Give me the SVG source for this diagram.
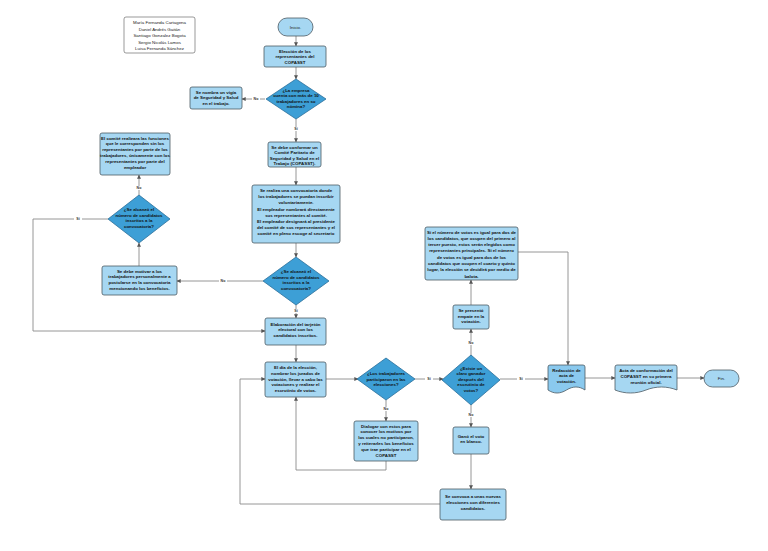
<svg xmlns="http://www.w3.org/2000/svg" width="768" height="551" viewBox="0 0 768 551">
<defs>
<marker id="ah" viewBox="0 0 6 6" refX="5.5" refY="3" markerWidth="4" markerHeight="4" orient="auto" markerUnits="userSpaceOnUse">
<path d="M0,0 L6,3 L0,6 z" fill="#555"/>
</marker>
<style>
.bx{fill:#a6d7f2;stroke:#4d5a63;stroke-width:0.8}
.dm{fill:#3d9fd6;stroke:#2b6f99;stroke-width:0.8}
.dk{fill:#8ac9ee;stroke:#4d5a63;stroke-width:0.8}
.t{font-family:"Liberation Sans",Arial,sans-serif;font-size:4.4px;font-weight:bold;fill:#111;text-anchor:middle}
.n{font-family:"Liberation Sans",Arial,sans-serif;font-size:4.4px;fill:#222;text-anchor:middle}
.c{fill:none;stroke:#8a8a8a;stroke-width:0.9}
.lb{font-family:"Liberation Sans",Arial,sans-serif;font-size:3.6px;font-weight:bold;fill:#333;text-anchor:middle}
.lbg{fill:#fff}
</style>
</defs>
<rect width="768" height="551" fill="#fff"/>

<g id="connectors">
<path class="c" marker-end="url(#ah)" d="M296,36 V46"/>
<path class="c" marker-end="url(#ah)" d="M296,67 V79"/>
<path class="c" marker-end="url(#ah)" d="M265,99 H242"/>
<path class="c" marker-end="url(#ah)" d="M296,119 V142"/>
<path class="c" marker-end="url(#ah)" d="M296,167 V185"/>
<path class="c" marker-end="url(#ah)" d="M296,243 V257"/>
<path class="c" marker-end="url(#ah)" d="M263,281 H177"/>
<path class="c" marker-end="url(#ah)" d="M139,266 V243"/>
<path class="c" marker-end="url(#ah)" d="M139,195 V175"/>
<path class="c" marker-end="url(#ah)" d="M108,219 H33 V331 H265"/>
<path class="c" marker-end="url(#ah)" d="M296,305 V318"/>
<path class="c" marker-end="url(#ah)" d="M296,345 V362"/>
<path class="c" marker-end="url(#ah)" d="M326,379 H358"/>
<path class="c" marker-end="url(#ah)" d="M415,379 H443"/>
<path class="c" marker-end="url(#ah)" d="M386,400 V421"/>
<path class="c" marker-end="url(#ah)" d="M386,461 V470 H296 V397"/>
<path class="c" marker-end="url(#ah)" d="M500,379 H548"/>
<path class="c" marker-end="url(#ah)" d="M471,356 V329"/>
<path class="c" marker-end="url(#ah)" d="M471,305 V280"/>
<path class="c" marker-end="url(#ah)" d="M518,252 H568 V365"/>
<path class="c" marker-end="url(#ah)" d="M585,378 H615"/>
<path class="c" marker-end="url(#ah)" d="M677,378 H704"/>
<path class="c" marker-end="url(#ah)" d="M471,405 V427"/>
<path class="c" marker-end="url(#ah)" d="M471,454 V489"/>
<path class="c" marker-end="url(#ah)" d="M440,504 H240 V379 H265"/>
<g>
<rect class="lbg" x="252" y="97" width="8" height="4"/><text class="lb" x="256" y="100.3">No</text>
<rect class="lbg" x="292" y="127" width="8" height="4"/><text class="lb" x="296" y="130.3">Sí</text>
<rect class="lbg" x="219" y="279" width="8" height="4"/><text class="lb" x="223" y="282.3">No</text>
<rect class="lbg" x="135" y="186" width="8" height="4"/><text class="lb" x="139" y="189.3">No</text>
<rect class="lbg" x="74" y="217" width="8" height="4"/><text class="lb" x="78" y="220.3">Sí</text>
<rect class="lbg" x="292" y="309" width="8" height="4"/><text class="lb" x="296" y="312.3">Sí</text>
<rect class="lbg" x="425" y="377" width="8" height="4"/><text class="lb" x="429" y="380.3">Sí</text>
<rect class="lbg" x="382" y="407" width="8" height="4"/><text class="lb" x="386" y="410.3">No</text>
<rect class="lbg" x="517" y="377" width="8" height="4"/><text class="lb" x="521" y="380.3">Sí</text>
<rect class="lbg" x="467" y="341" width="8" height="4"/><text class="lb" x="471" y="344.3">No</text>
<rect class="lbg" x="467" y="413" width="8" height="4"/><text class="lb" x="471" y="416.3">No</text>
</g>
</g>

<g id="autores">
<rect x="124" y="17" width="71" height="36" rx="2" fill="#fff" stroke="#555" stroke-width="0.6"/>
<text class="n" x="159.5" y="24">María Fernanda Cartagena</text>
<text class="n" x="159.5" y="30.5">Daniel Andrés Gaitán</text>
<text class="n" x="159.5" y="37">Santiago Gonzalez Bogota</text>
<text class="n" x="159.5" y="43.5">Sergio Nicolás Lamos</text>
<text class="n" x="159.5" y="50">Luisa Fernanda Sánchez</text>
</g>

<g id="inicio">
<rect class="bx" x="278" y="18" width="35" height="18" rx="9"/>
<text class="n" x="295.5" y="28.5">Inicio.</text>
</g>

<g id="eleccion">
<rect class="bx" x="264" y="46" width="62" height="21" rx="2"/>
<text class="t" x="295" y="52.5">Elección de los</text>
<text class="t" x="295" y="58.3">representantes del</text>
<text class="t" x="295" y="64.1">COPASST</text>
</g>

<g id="d_empresa">
<path class="dm" d="M296,79 L326,99 L296,119 L266,99 z"/>
<text class="t" x="296" y="91.5">¿La empresa</text>
<text class="t" x="296" y="97">cuenta con más de 10</text>
<text class="t" x="296" y="102.5">trabajadores en su</text>
<text class="t" x="296" y="108">nómina?</text>
</g>

<g id="vigia">
<rect class="bx" x="190" y="87" width="52" height="22" rx="2"/>
<text class="t" x="216" y="93.5">Se nombra un vigía</text>
<text class="t" x="216" y="99.2">de Seguridad y Salud</text>
<text class="t" x="216" y="104.9">en el trabajo.</text>
</g>

<g id="conformar">
<rect class="bx" x="268" y="142" width="53" height="25" rx="2"/>
<text class="t" x="294.5" y="148.5">Se debe conformar un</text>
<text class="t" x="294.5" y="154">Comité Paritario de</text>
<text class="t" x="294.5" y="159.5">Seguridad y Salud en el</text>
<text class="t" x="294.5" y="165">Trabajo (COPASST).</text>
</g>

<g id="convocatoria">
<rect class="bx" x="252" y="185" width="88" height="58" rx="2"/>
<text class="t" x="296" y="192">Se realiza una convocatoria donde</text>
<text class="t" x="296" y="198.2">los trabajadores se puedan inscribir</text>
<text class="t" x="296" y="204.4">voluntariamente.</text>
<text class="t" x="296" y="210.6">El empleador  nombrará directamente</text>
<text class="t" x="296" y="216.8">sus representantes al comité.</text>
<text class="t" x="296" y="223">El empleador designará al presidente</text>
<text class="t" x="296" y="229.2">del comité de sus representantes y el</text>
<text class="t" x="296" y="235.4">comité en pleno escoge al secretario</text>
</g>

<g id="comite_sin">
<rect class="bx" x="100" y="133" width="70" height="42" rx="2"/>
<text class="t" x="135" y="139.5">El comité realizara las funciones</text>
<text class="t" x="135" y="145.3">que le corresponden sin los</text>
<text class="t" x="135" y="151.1">representantes por parte de los</text>
<text class="t" x="135" y="156.9">trabajadores, únicamente con los</text>
<text class="t" x="135" y="162.7">representantes por parte del</text>
<text class="t" x="135" y="168.5">empleador</text>
</g>

<g id="d_alcanzo_izq">
<path class="dm" d="M139,195 L170,219 L139,243 L108,219 z"/>
<text class="t" x="139" y="211">¿Se alcanzó el</text>
<text class="t" x="139" y="216.5">número de candidatos</text>
<text class="t" x="139" y="222">inscritos a la</text>
<text class="t" x="139" y="227.5">convocatoria?</text>
</g>

<g id="motivar">
<rect class="bx" x="102" y="266" width="75" height="29" rx="2"/>
<text class="t" x="139.5" y="272.5">Se debe motivar a los</text>
<text class="t" x="139.5" y="278.2">trabajadores personalmente a</text>
<text class="t" x="139.5" y="283.9">postularse en la convocatoria</text>
<text class="t" x="139.5" y="289.6">mencionando los beneficios.</text>
</g>

<g id="d_alcanzo">
<path class="dm" d="M296,257 L329,281 L296,305 L263,281 z"/>
<text class="t" x="296" y="273">¿Se alcanzó el</text>
<text class="t" x="296" y="278.5">número de candidatos</text>
<text class="t" x="296" y="284">inscritos a la</text>
<text class="t" x="296" y="289.5">convocatoria?</text>
</g>

<g id="tarjeton">
<rect class="bx" x="265" y="318" width="61" height="27" rx="2"/>
<text class="t" x="295.5" y="325.5">Elaboración del tarjetón</text>
<text class="t" x="295.5" y="331.3">electoral con los</text>
<text class="t" x="295.5" y="337.1">candidatos inscritos.</text>
</g>

<g id="dia_eleccion">
<rect class="bx" x="265" y="362" width="61" height="35" rx="2"/>
<text class="t" x="295.5" y="369">El día de la elección,</text>
<text class="t" x="295.5" y="374.8">nombrar los jurados de</text>
<text class="t" x="295.5" y="380.6">votación, llevar a cabo las</text>
<text class="t" x="295.5" y="386.4">votaciones y realizar el</text>
<text class="t" x="295.5" y="392.2">escrutinio de votos.</text>
</g>

<g id="d_participaron">
<path class="dm" d="M386,358 L415,379 L386,400 L357,379 z"/>
<text class="t" x="386" y="375">¿Los trabajadores</text>
<text class="t" x="386" y="380.5">participaron en las</text>
<text class="t" x="386" y="386">elecciones?</text>
</g>

<g id="dialogar">
<rect class="bx" x="354" y="421" width="64" height="40" rx="2"/>
<text class="t" x="386" y="427.5">Dialogar con estos para</text>
<text class="t" x="386" y="433.3">conocer los motivos por</text>
<text class="t" x="386" y="439.1">los cuales no participaron,</text>
<text class="t" x="386" y="444.9">y reiterarles los beneficios</text>
<text class="t" x="386" y="450.7">que trae participar en el</text>
<text class="t" x="386" y="456.5">COPASST</text>
</g>

<g id="d_ganador">
<path class="dm" d="M471,355 L500,380 L471,405 L442,380 z"/>
<text class="t" x="471" y="369.5">¿Existe un</text>
<text class="t" x="471" y="375">claro ganador</text>
<text class="t" x="471" y="380.5">después del</text>
<text class="t" x="471" y="386">escrutinio de</text>
<text class="t" x="471" y="391.5">votos?</text>
</g>

<g id="empate">
<rect class="bx" x="453" y="305" width="36" height="24" rx="2"/>
<text class="t" x="471" y="311.8">Se presentó</text>
<text class="t" x="471" y="317.6">empate en la</text>
<text class="t" x="471" y="323.4">votación.</text>
</g>

<g id="regla_empate">
<rect class="bx" x="425" y="227" width="93" height="53" rx="2"/>
<text class="t" x="471.5" y="233.5">Si el número de votos es igual para dos de</text>
<text class="t" x="471.5" y="239.8">los candidatos, que ocupen del primero al</text>
<text class="t" x="471.5" y="246.1">tercer puesto, estos serán elegidos como</text>
<text class="t" x="471.5" y="252.4">representantes principales. Si el número</text>
<text class="t" x="471.5" y="258.7">de votos es igual para dos de los</text>
<text class="t" x="471.5" y="265">candidatos que ocupen el cuarto y quinto</text>
<text class="t" x="471.5" y="271.3">lugar, la elección se decidirá por medio de</text>
<text class="t" x="471.5" y="277.6">balota.</text>
</g>

<g id="blanco">
<rect class="bx" x="453" y="427" width="36" height="27" rx="2"/>
<text class="t" x="471" y="437.5">Ganó el voto</text>
<text class="t" x="471" y="443.3">en blanco.</text>
</g>

<g id="nuevas">
<rect class="bx" x="440" y="489" width="66" height="31" rx="2"/>
<text class="t" x="473" y="498">Se convoca a unas nuevas</text>
<text class="t" x="473" y="503.8">elecciones con diferentes</text>
<text class="t" x="473" y="509.6">candidatos.</text>
</g>

<g id="redaccion">
<path class="dk" d="M548,367 q0,-2 2,-2 h33 q2,0 2,2 v23 c-6,-4 -12,-4 -18.5,0 s-12.5,4 -18.5,0 z"/>
<text class="t" x="566.5" y="371.5">Redacción de</text>
<text class="t" x="566.5" y="377.3">acta de</text>
<text class="t" x="566.5" y="383.1">votación.</text>
</g>

<g id="acta">
<path class="bx" d="M615,367 q0,-2 2,-2 h58 q2,0 2,2 v23 c-10,-4 -21,-4 -31,0 s-21,4 -31,0 z"/>
<text class="t" x="646" y="372">Acta de conformación del</text>
<text class="t" x="646" y="377.8">COPASST en su primera</text>
<text class="t" x="646" y="383.6">reunión oficial.</text>
</g>

<g id="fin">
<rect class="bx" x="704" y="370" width="35" height="17" rx="8.5"/>
<text class="n" x="721.5" y="380">Fin.</text>
</g>
</svg>
